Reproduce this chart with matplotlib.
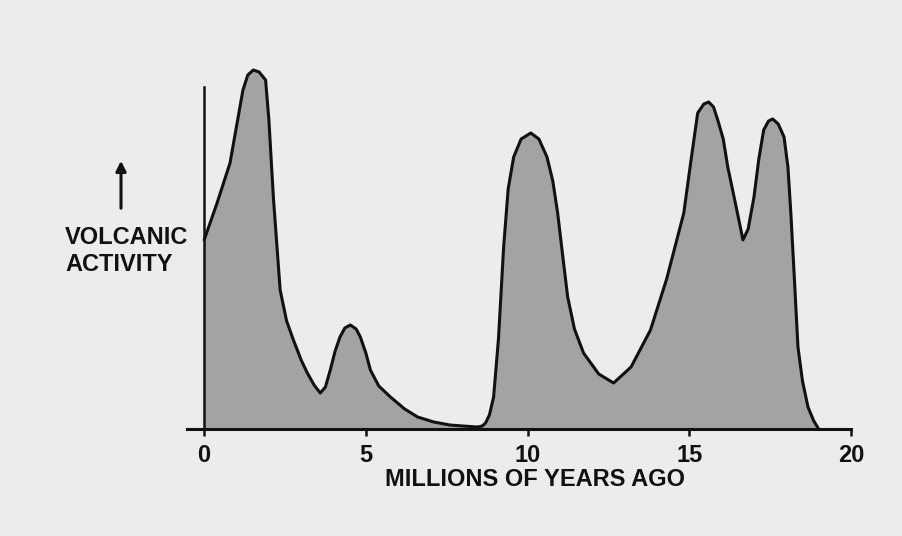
import matplotlib.pyplot as plt
from matplotlib.patches import FancyArrowPatch

# millions of years ago vs relative volcanic activity
ma = [0, 0.4, 0.8, 1.2, 1.35, 1.52, 1.7, 1.9, 2.0, 2.14, 2.35, 2.55, 2.76, 3.0, 3.19,
      3.4, 3.59, 3.75, 3.9, 4.05, 4.2, 4.35, 4.52, 4.7, 4.83, 5.0, 5.14, 5.4, 5.76,
      6.2, 6.6, 7.1, 7.6, 8.0, 8.45, 8.6, 8.7, 8.82, 8.95, 9.1, 9.26, 9.4, 9.57, 9.8,
      10.1, 10.35, 10.6, 10.78, 10.93, 11.08, 11.24, 11.45, 11.73, 12.2, 12.66, 13.2,
      13.8, 14.3, 14.83, 15.05, 15.26, 15.45, 15.6, 15.75, 15.88, 16.05, 16.19, 16.45,
      16.66, 16.82, 17.0, 17.15, 17.3, 17.45, 17.58, 17.75, 17.93, 18.05, 18.14, 18.25,
      18.36, 18.5, 18.67, 18.85, 19.0]
activity = [189, 226, 266, 339, 354, 359, 357, 349, 310, 232, 139, 108, 89, 69, 56,
            44, 36, 42, 59, 78, 92, 101, 104, 100, 92, 76, 59, 43, 32,
            20, 12, 7, 4, 3, 2, 3, 6, 14, 32, 90, 182, 240, 272, 290,
            296, 290, 272, 248, 216, 175, 132, 100, 76, 55, 46, 62,
            99, 150, 216, 268, 316, 325, 327, 322, 309, 290, 262, 222,
            189, 200, 232, 270, 299, 308, 310, 305, 292, 262, 216, 150,
            82, 48, 22, 8, 0]

x_ticks = [0, 5, 10, 15, 20]
bg = '#ececec'
font = ['Liberation Sans', 'DejaVu Sans']

fig = plt.figure(figsize=(9.02, 5.36), dpi=100, facecolor=bg)
ax = fig.add_axes([187 / 902, 107 / 536, 664 / 902, 369 / 536])
ax.set_facecolor(bg)

ax.fill_between(ma, activity, 0, color='#a3a3a3', linewidth=0)
ax.plot(ma, activity, color='#111111', linewidth=2.2, solid_joinstyle='round',
        solid_capstyle='round')
ax.plot([0, 0], [0, 342], color='#111111', linewidth=1.8)

ax.set_xlim(-0.53, 20)
ax.set_ylim(0, 369)
for s in ['top', 'right', 'left']:
    ax.spines[s].set_visible(False)
ax.spines['bottom'].set_linewidth(2.2)
ax.spines['bottom'].set_color('#111111')
ax.set_yticks([])
ax.set_xticks(x_ticks)
ax.set_xticklabels([str(t) for t in x_ticks], fontfamily=font, fontweight='bold',
                   fontsize=17, color='#111111')
ax.tick_params(axis='x', direction='out', length=5, width=1.8, pad=6, colors='#111111')

fig.text(535 / 902, 1 - 480 / 536, 'MILLIONS OF YEARS AGO', ha='center', va='center',
         fontfamily=font, fontweight='bold', fontsize=17, color='#111111')
fig.text(65 / 902, 1 - 251 / 536, 'VOLCANIC\nACTIVITY', ha='left', va='center',
         fontfamily=font, fontweight='bold', fontsize=17, color='#111111',
         linespacing=1.2)
fig.patches.append(FancyArrowPatch(
    (121 / 902, 1 - 211 / 536), (121 / 902, 1 - 158 / 536), transform=fig.transFigure,
    arrowstyle='-|>,head_length=6,head_width=3', linewidth=2.2, color='#111111'))

fig.savefig('out.png', dpi=100, facecolor=bg)
